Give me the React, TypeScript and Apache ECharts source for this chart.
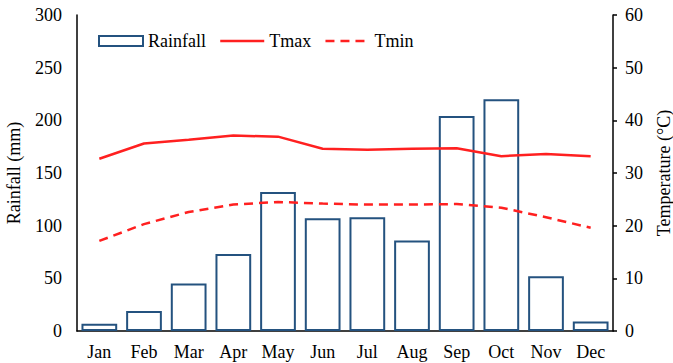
import React, { useEffect, useRef } from "react";
import * as echarts from "echarts";

const months = ["Jan", "Feb", "Mar", "Apr", "May", "Jun", "Jul", "Aug", "Sep", "Oct", "Nov", "Dec"];
const rainfall = [7, 19, 45, 73, 132, 107, 108, 86, 204, 220, 52, 9];
const tmax = [32.7, 35.6, 36.3, 37.1, 36.9, 34.6, 34.4, 34.6, 34.7, 33.2, 33.6, 33.2];
const tmin = [17.1, 20.3, 22.6, 24.0, 24.5, 24.2, 24.0, 24.0, 24.1, 23.4, 21.6, 19.6];

const FONT = "Liberation Serif";
const BLUE = "#24527f";
const RED = "#ff2020";
const FS = 18;

export default function App() {
  const ref = useRef<HTMLDivElement>(null);
  useEffect(() => {
    if (!ref.current) return;
    const chart = echarts.init(ref.current, null, { renderer: "svg" });
    chart.setOption({
      animation: false,
      backgroundColor: "#fff",
      textStyle: { fontFamily: FONT, color: "#000" },
      grid: { left: 77, right: 60, top: 15, bottom: 32, containLabel: false, outerBoundsMode: "none" },
      legend: {
        left: 98,
        top: 32,
        padding: 0,
        itemGap: 13,
        itemWidth: 44,
        itemHeight: 10,
        textStyle: { fontFamily: FONT, fontSize: FS, color: "#000" },
        data: [
          { name: "Rainfall", icon: "rect", itemStyle: { color: "#fff", borderColor: BLUE, borderWidth: 2 } },
          { name: "Tmax", lineStyle: { color: RED, width: 2.5 }, itemStyle: { opacity: 0 } },
          { name: "Tmin", lineStyle: { color: RED, width: 2.5, type: [9, 6] }, itemStyle: { opacity: 0 } },
        ],
      },
      xAxis: {
        type: "category",
        data: months,
        axisLine: { lineStyle: { color: "#000", width: 1.5 } },
        axisTick: { show: false },
        axisLabel: { fontFamily: FONT, fontSize: FS, color: "#000", margin: 12 },
      },
      yAxis: [
        {
          type: "value",
          min: 0,
          max: 300,
          interval: 50,
          name: "Rainfall (mm)",
          nameLocation: "middle",
          nameGap: 54,
          nameTextStyle: { fontFamily: FONT, fontSize: FS, color: "#000" },
          axisLine: { show: true, lineStyle: { color: "#000", width: 1.5 } },
          axisTick: { show: false },
          splitLine: { show: false },
          axisLabel: { fontFamily: FONT, fontSize: FS, color: "#000", margin: 15 },
        },
        {
          type: "value",
          min: 0,
          max: 60,
          interval: 10,
          position: "right",
          name: "Temperature (°C)",
          nameLocation: "middle",
          nameGap: 42,
          nameRotate: 90,
          nameTextStyle: { fontFamily: FONT, fontSize: FS, color: "#000" },
          axisLine: { show: true, lineStyle: { color: "#000", width: 1.5 } },
          axisTick: { show: true, length: 4, lineStyle: { color: "#000", width: 1.5 } },
          splitLine: { show: false },
          axisLabel: { fontFamily: FONT, fontSize: FS, color: "#000", margin: 12 },
        },
      ],
      series: [
        {
          name: "Rainfall",
          type: "bar",
          data: rainfall,
          barCategoryGap: "20%",
          itemStyle: { color: "#fff", borderColor: BLUE, borderWidth: 2 },
        },
        {
          name: "Tmax",
          type: "line",
          yAxisIndex: 1,
          data: tmax,
          symbol: "none",
          lineStyle: { color: RED, width: 2.5 },
          itemStyle: { color: RED },
        },
        {
          name: "Tmin",
          type: "line",
          yAxisIndex: 1,
          data: tmin,
          symbol: "none",
          lineStyle: { color: RED, width: 2.5, type: [9, 6] },
          itemStyle: { color: RED },
        },
      ],
    });
    return () => chart.dispose();
  }, []);
  return <div ref={ref} style={{ width: 673, height: 363, position: "fixed", left: 0, top: 0 }} />;
}
